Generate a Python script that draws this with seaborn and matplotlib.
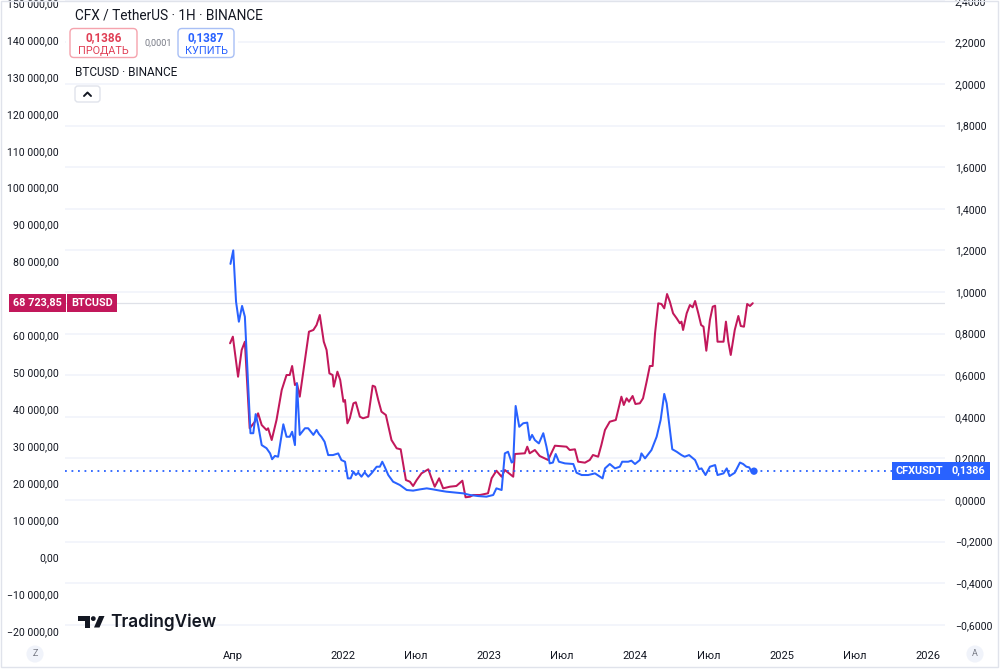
import numpy as np
import pandas as pd
import matplotlib
matplotlib.use("Agg")
import matplotlib.pyplot as plt
import seaborn as sns
from matplotlib.transforms import Affine2D, blended_transform_factory
from matplotlib.patches import FancyBboxPatch, Rectangle, Circle, Polygon
from matplotlib.ticker import FuncFormatter, FixedLocator

# ---------------- data ----------------
btc_dates = [
    "2021-03-25", "2021-04-01", "2021-04-14", "2021-04-23", "2021-05-01", "2021-05-13", "2021-05-26",
    "2021-06-03", "2021-06-12", "2021-06-24", "2021-06-28", "2021-07-07", "2021-07-19", "2021-08-01",
    "2021-08-13", "2021-08-21", "2021-08-27", "2021-09-03", "2021-09-08", "2021-09-15", "2021-09-28",
    "2021-10-08", "2021-10-19", "2021-10-27", "2021-11-04", "2021-11-14", "2021-11-21", "2021-11-28",
    "2021-12-06", "2021-12-09", "2021-12-18", "2021-12-25", "2022-01-02", "2022-01-06", "2022-01-12",
    "2022-01-18", "2022-01-27", "2022-02-02", "2022-02-12", "2022-02-20", "2022-03-05", "2022-03-16",
    "2022-03-22", "2022-03-30", "2022-04-07", "2022-04-18", "2022-05-02", "2022-05-15", "2022-05-25",
    "2022-06-07", "2022-06-17", "2022-06-25", "2022-07-04", "2022-07-16", "2022-08-02", "2022-08-10",
    "2022-08-18", "2022-08-29", "2022-09-08", "2022-09-25", "2022-10-11", "2022-10-26", "2022-11-03",
    "2022-11-14", "2022-11-22",
    "2022-12-09", "2022-12-29", "2023-01-07", "2023-01-19", "2023-02-01", "2023-02-09", "2023-03-02",
    "2023-03-06", "2023-03-31", "2023-04-06", "2023-04-12", "2023-04-25", "2023-05-07", "2023-05-28",
    "2023-06-14", "2023-07-13", "2023-07-21", "2023-08-03", "2023-08-11", "2023-08-28", "2023-09-09",
    "2023-09-17", "2023-09-30", "2023-10-08", "2023-10-17", "2023-10-29", "2023-11-13", "2023-11-19",
    "2023-11-27", "2023-12-03", "2023-12-10", "2023-12-16", "2023-12-25", "2024-01-01", "2024-01-12",
    "2024-01-20", "2024-01-29", "2024-02-06", "2024-02-13", "2024-02-19", "2024-02-27", "2024-03-06",
    "2024-03-13", "2024-03-20", "2024-03-27", "2024-04-04", "2024-04-13", "2024-04-21", "2024-04-25",
    "2024-04-29", "2024-05-08", "2024-05-16", "2024-05-23", "2024-05-29", "2024-06-06", "2024-06-13",
    "2024-06-19", "2024-06-26", "2024-07-05", "2024-07-12", "2024-07-18", "2024-07-24", "2024-08-08",
    "2024-08-14", "2024-08-20", "2024-08-26", "2024-09-05", "2024-09-14", "2024-09-20", "2024-09-28",
    "2024-10-06", "2024-10-13", "2024-10-20",
]
btc_close = [
    57870, 59660, 48820, 56050, 58300, 34850, 36640, 38910, 35740, 34390, 34850, 31680, 37100, 45220,
    49280, 49280, 51720, 46570, 47030, 43410, 53340, 61010, 61470, 62820, 65530, 58300, 56050, 49730,
    49280, 46120, 50180, 47930, 42050, 42510, 36200, 37560, 41620, 41890, 37990, 37560, 37990, 46390,
    46120, 42510, 39350, 38450, 31680, 29430, 29160, 20850, 20390, 19230, 20850, 22660, 23750, 21310,
    19040, 21310, 18590, 19040, 19230, 20660, 16170, 16330, 16790,
    16790, 17250, 21310, 23370, 21740, 23560, 21740, 27890, 28080, 29870, 28080, 28970, 27350,
    26270, 30140, 29870, 28970, 29160, 25810, 25540, 26270, 27620, 27160, 30330, 34390, 36640, 37100,
    39800, 43410, 41160, 42970, 42050, 43600, 41430, 41620, 42970, 47470, 51720, 51720, 60570, 68690,
    68510, 67340, 71210, 69130, 65990, 64630, 63280, 63730, 61470, 65990, 68240, 67610, 69320, 65990,
    62820, 62360, 55860, 64180, 67780, 68050, 58300, 58300, 63730, 58300, 54700, 61470, 65260, 62550,
    62360, 68510, 67970, 68723.85,
]

cfx_dates = [
    "2021-03-26", "2021-04-02", "2021-04-09", "2021-04-16", "2021-04-24", "2021-05-01", "2021-05-15",
    "2021-05-22", "2021-05-28", "2021-06-03", "2021-06-12", "2021-06-24", "2021-07-03", "2021-07-08",
    "2021-07-15", "2021-07-23", "2021-08-05", "2021-08-13", "2021-08-21", "2021-08-27", "2021-09-03",
    "2021-09-08", "2021-09-15", "2021-09-28", "2021-10-06", "2021-10-19", "2021-10-27", "2021-11-02",
    "2021-11-08", "2021-11-16", "2021-11-25", "2021-12-07", "2021-12-20", "2021-12-28", "2022-01-06",
    "2022-01-13", "2022-01-20", "2022-01-27", "2022-02-02", "2022-02-08", "2022-02-16", "2022-02-24",
    "2022-03-05", "2022-03-13", "2022-03-26", "2022-04-03", "2022-04-09", "2022-04-15", "2022-04-24",
    "2022-05-06", "2022-05-23", "2022-06-09", "2022-06-25", "2022-07-12", "2022-07-29", "2022-08-14",
    "2022-08-31", "2022-09-16", "2022-10-11", "2022-10-28", "2022-11-14", "2022-12-04",
    "2022-12-25", "2023-01-11", "2023-01-19", "2023-02-01", "2023-02-09", "2023-02-17", "2023-02-26",
    "2023-03-02", "2023-03-08", "2023-03-17", "2023-03-27", "2023-04-06", "2023-04-12", "2023-04-18",
    "2023-04-25", "2023-05-05", "2023-05-16", "2023-05-24", "2023-06-01", "2023-06-09", "2023-06-16",
    "2023-06-24", "2023-07-09", "2023-07-30", "2023-08-07", "2023-08-20", "2023-09-05", "2023-09-22",
    "2023-10-11", "2023-10-17", "2023-10-29", "2023-11-11", "2023-11-23", "2023-11-29", "2023-12-14",
    "2023-12-22", "2023-12-31", "2024-01-12", "2024-01-16", "2024-01-25", "2024-02-10", "2024-02-23",
    "2024-03-04", "2024-03-13", "2024-03-19", "2024-03-27", "2024-04-02", "2024-04-13", "2024-04-25",
    "2024-05-03", "2024-05-14", "2024-05-29", "2024-06-08", "2024-06-14", "2024-06-24", "2024-07-05",
    "2024-07-18", "2024-07-24", "2024-08-08", "2024-08-16", "2024-08-23", "2024-09-05", "2024-09-18",
    "2024-09-26", "2024-10-04", "2024-10-11", "2024-10-17", "2024-10-23",
]
cfx_close = [
    1.135, 1.200, 0.953, 0.857, 0.933, 0.881, 0.321, 0.321, 0.413, 0.361, 0.264, 0.249, 0.224, 0.196,
    0.212, 0.208, 0.364, 0.304, 0.304, 0.328, 0.264, 0.561, 0.313, 0.345, 0.345, 0.313, 0.337, 0.317,
    0.304, 0.280, 0.216, 0.216, 0.224, 0.192, 0.184, 0.104, 0.104, 0.136, 0.120, 0.131, 0.112, 0.133,
    0.112, 0.128, 0.160, 0.160, 0.184, 0.160, 0.120, 0.088, 0.072, 0.048, 0.045, 0.051, 0.056, 0.051,
    0.045, 0.040, 0.035, 0.032, 0.024, 0.019,
    0.016, 0.024, 0.056, 0.048, 0.224, 0.232, 0.180, 0.184, 0.452, 0.352, 0.369, 0.372, 0.288, 0.313,
    0.288, 0.272, 0.321, 0.256, 0.176, 0.180, 0.221, 0.184, 0.176, 0.173, 0.131, 0.120, 0.120, 0.128,
    0.104, 0.152, 0.173, 0.152, 0.160, 0.184, 0.184, 0.189, 0.173, 0.192, 0.224, 0.200, 0.240, 0.304,
    0.385, 0.510, 0.465, 0.337, 0.244, 0.232, 0.216, 0.208, 0.216, 0.192, 0.148, 0.152, 0.120, 0.160,
    0.168, 0.120, 0.128, 0.152, 0.115, 0.131, 0.180, 0.173, 0.160, 0.157, 0.136, 0.1386,
]

btc_last = 68723.85
cfx_last = 0.1386
cfx_bid = "0,1386"
cfx_ask = "0,1387"
cfx_spread = "0,0001"

left_ticks = list(range(-20000, 150001, 10000))
right_ticks = [round(-0.6 + 0.2 * i, 1) for i in range(16)]
x_tick_dates = ["2021-04-01", "2022-01-01", "2022-07-01", "2023-01-01", "2023-07-01",
                "2024-01-01", "2024-07-01", "2025-01-01", "2025-07-01", "2026-01-01"]
x_tick_labels = ["Апр", "2022", "Июл", "2023", "Июл", "2024", "Июл", "2025", "Июл", "2026"]

# ---------------- style ----------------
RED = "#c2185b"
BLUE = "#2962ff"
TXT = "#131722"
GRID = "#f0f3fa"

sns.set_theme(style="white")
plt.rcParams['font.family'] = ['Roboto', 'DejaVu Sans']

W, H = 1000, 669
fig = plt.figure(figsize=(W / 100, H / 100), dpi=100)
fig.patch.set_facecolor("white")
# pixel transform (y down)
PX = Affine2D().scale(1 / W, -1 / H).translate(0, 1) + fig.transFigure

ax_grid = fig.add_axes([65 / W, 29 / H, 880 / W, 640 / H])
ax_btc = ax_grid.twinx()
ax_cfx = ax_grid.twinx()

btc_df = pd.DataFrame({"date": pd.to_datetime(btc_dates), "close": btc_close})
cfx_df = pd.DataFrame({"date": pd.to_datetime(cfx_dates), "close": cfx_close})

sns.lineplot(data=btc_df, x="date", y="close", ax=ax_btc, color=RED, lw=1.45, zorder=3)
sns.lineplot(data=cfx_df, x="date", y="close", ax=ax_cfx, color=BLUE, lw=1.45, zorder=3)
sns.scatterplot(x=cfx_df["date"].iloc[[-1]], y=cfx_df["close"].iloc[[-1]], ax=ax_cfx,
                color=BLUE, s=28, edgecolor="none", zorder=4)

# limits
ref = pd.Timestamp("2022-01-01")
xl = (ref + pd.Timedelta(days=-694.06), ref + pd.Timedelta(days=1502.9))
for a in (ax_grid, ax_btc, ax_cfx):
    a.set_xlim(*xl)
    for s in a.spines.values():
        s.set_visible(False)
ax_grid.set_ylim(-0.6731, 2.4038)
ax_cfx.set_ylim(-0.6731, 2.4038)
ax_btc.set_ylim(-22475, 150826)

# grid
ax_grid.yaxis.set_major_locator(FixedLocator(right_ticks))
ax_grid.grid(axis="y", color=GRID, lw=1.1)
ax_grid.grid(axis="x", visible=False)
ax_grid.tick_params(axis="y", left=False, right=False, labelleft=False, labelright=False)

# x ticks
ax_grid.set_xticks(pd.to_datetime(x_tick_dates))
ax_grid.set_xticklabels(x_tick_labels)
ax_grid.tick_params(axis="x", length=0, pad=8, labelsize=8, labelcolor=TXT)
ax_grid.set_xlabel("")
ax_grid.set_ylabel("")


def fmt_left(v, pos=None):
    s = f"{abs(v):,.2f}".replace(",", " ").replace(".", ",")
    return ("−" if v < 0 else "") + s


def fmt_right(v, pos=None):
    s = f"{abs(v):.4f}".replace(".", ",")
    return ("−" if v < -1e-9 else "") + s


ax_btc.yaxis.tick_left()
ax_btc.yaxis.set_major_locator(FixedLocator(left_ticks))
ax_btc.yaxis.set_major_formatter(FuncFormatter(fmt_left))
ax_btc.tick_params(axis="y", length=0, pad=4.5, labelsize=7.6, labelcolor=TXT)
ax_btc.set_ylabel("")
ax_btc.set_xlabel("")

ax_cfx.yaxis.tick_right()
ax_cfx.yaxis.set_major_locator(FixedLocator(right_ticks))
ax_cfx.yaxis.set_major_formatter(FuncFormatter(fmt_right))
ax_cfx.tick_params(axis="y", length=0, pad=7, labelsize=7.6, labelcolor=TXT)
ax_cfx.set_ylabel("")
ax_cfx.set_xlabel("")

# price lines
ax_btc.axhline(btc_last, color="#dfe1e8", lw=0.9, zorder=1)
ax_cfx.axhline(cfx_last, xmin=0, xmax=(893 - 65) / 880, color=BLUE, lw=1.3,
               ls=(0, (1, 2.6)), zorder=2)

# price labels
bl = blended_transform_factory(fig.transFigure, ax_btc.transData)
ax_btc.text(13 / W, btc_last, "68 723,85", transform=bl, ha="left", va="center", color="white",
            fontsize=7.8, fontweight="bold", clip_on=False, zorder=10,
            bbox=dict(boxstyle="square,pad=0.38", fc=RED, ec="none"))
ax_btc.text(71 / W, btc_last, "BTCUSD", transform=bl, ha="left", va="center", color="white",
            fontsize=7.8, fontweight="bold", clip_on=False, zorder=10,
            bbox=dict(boxstyle="square,pad=0.38", fc=RED, ec="none"))
bc = blended_transform_factory(fig.transFigure, ax_cfx.transData)
ax_cfx.text(896 / W, cfx_last, "CFXUSDT", transform=bc, ha="left", va="center", color="white",
            fontsize=7.8, fontweight="bold", clip_on=False, zorder=10,
            bbox=dict(boxstyle="square,pad=0.38", fc=BLUE, ec="none"))
ax_cfx.text(952 / W, cfx_last, "0,1386", transform=bc, ha="left", va="center", color="white",
            fontsize=7.8, fontweight="bold", clip_on=False, zorder=10,
            bbox=dict(boxstyle="square,pad=0.38", fc=BLUE, ec="none"))

# ---------------- header legend ----------------
fig.patches.append(Rectangle((66, 26), 172, 34, transform=PX, fc="white", ec="none", zorder=5))
fig.text(75, 15, "CFX / TetherUS · 1H · BINANCE", transform=PX, ha="left", va="center",
         fontsize=9.8, color=TXT, zorder=6)
fig.patches.append(FancyBboxPatch((70, 28.5), 67, 29, boxstyle="round,pad=0,rounding_size=4",
                                  transform=PX, fc="white", ec="#f5a3ad", lw=1, zorder=6))
fig.text(103.5, 38, cfx_bid, transform=PX, ha="center", va="center", fontsize=8.5,
         fontweight="semibold", color="#e03f55", zorder=7)
fig.text(103.5, 50.5, "ПРОДАТЬ", transform=PX, ha="center", va="center", fontsize=7.8,
         color="#e03f55", zorder=7)
fig.text(158, 43, cfx_spread, transform=PX, ha="center", va="center", fontsize=6.6,
         color="#787b86", zorder=7)
fig.patches.append(FancyBboxPatch((178, 28.5), 56, 29, boxstyle="round,pad=0,rounding_size=4",
                                  transform=PX, fc="white", ec="#a8bff5", lw=1, zorder=6))
fig.text(206, 38, cfx_ask, transform=PX, ha="center", va="center", fontsize=8.5,
         fontweight="semibold", color=BLUE, zorder=7)
fig.text(206, 50.5, "КУПИТЬ", transform=PX, ha="center", va="center", fontsize=7.8,
         color=BLUE, zorder=7)
fig.text(75, 73, "BTCUSD · BINANCE", transform=PX, ha="left", va="center", fontsize=8.5,
         color=TXT, zorder=7)
fig.patches.append(FancyBboxPatch((75, 86), 25, 16, boxstyle="round,pad=0,rounding_size=3",
                                  transform=PX, fc="white", ec="#e0e3eb", lw=1, zorder=6))
fig.lines.append(matplotlib.lines.Line2D([84, 87.5, 91], [96, 92.5, 96], transform=PX,
                                         color=TXT, lw=1.4, zorder=7))

# ---------------- TradingView logo ----------------
fig.patches.append(Polygon([(78, 616), (89.5, 616), (89.5, 627.5), (84.5, 627.5), (84.5, 620.5),
                            (78, 620.5)], closed=True, transform=PX, fc=TXT, ec="none", zorder=6))
fig.patches.append(Circle((93.3, 618.6), 2.4, transform=PX, fc=TXT, ec="none", zorder=6))
fig.patches.append(Polygon([(94, 627.5), (99.5, 627.5), (104.5, 616), (99, 616)], closed=True,
                           transform=PX, fc=TXT, ec="none", zorder=6))
fig.text(110, 622, "TradingView", transform=PX, ha="left", va="center", fontsize=12.4,
         fontweight="semibold", family=["Inter", "DejaVu Sans"], color=TXT, zorder=6)

# bottom corner buttons
fig.text(35, 654, "Z", transform=PX, ha="center", va="center", fontsize=6.5, color="#787b86",
         bbox=dict(boxstyle="circle,pad=0.45", fc="#f0f3fa", ec="none"))
fig.text(975, 654, "A", transform=PX, ha="center", va="center", fontsize=6.5, color="#787b86",
         bbox=dict(boxstyle="circle,pad=0.45", fc="#f0f3fa", ec="none"))

# frame
fig.patches.append(Rectangle((0.5, 0.5), 997, 666.5, transform=PX, fill=False, ec="#e0e3eb",
                             lw=1, zorder=8))

fig.savefig("out.png", dpi=100)
